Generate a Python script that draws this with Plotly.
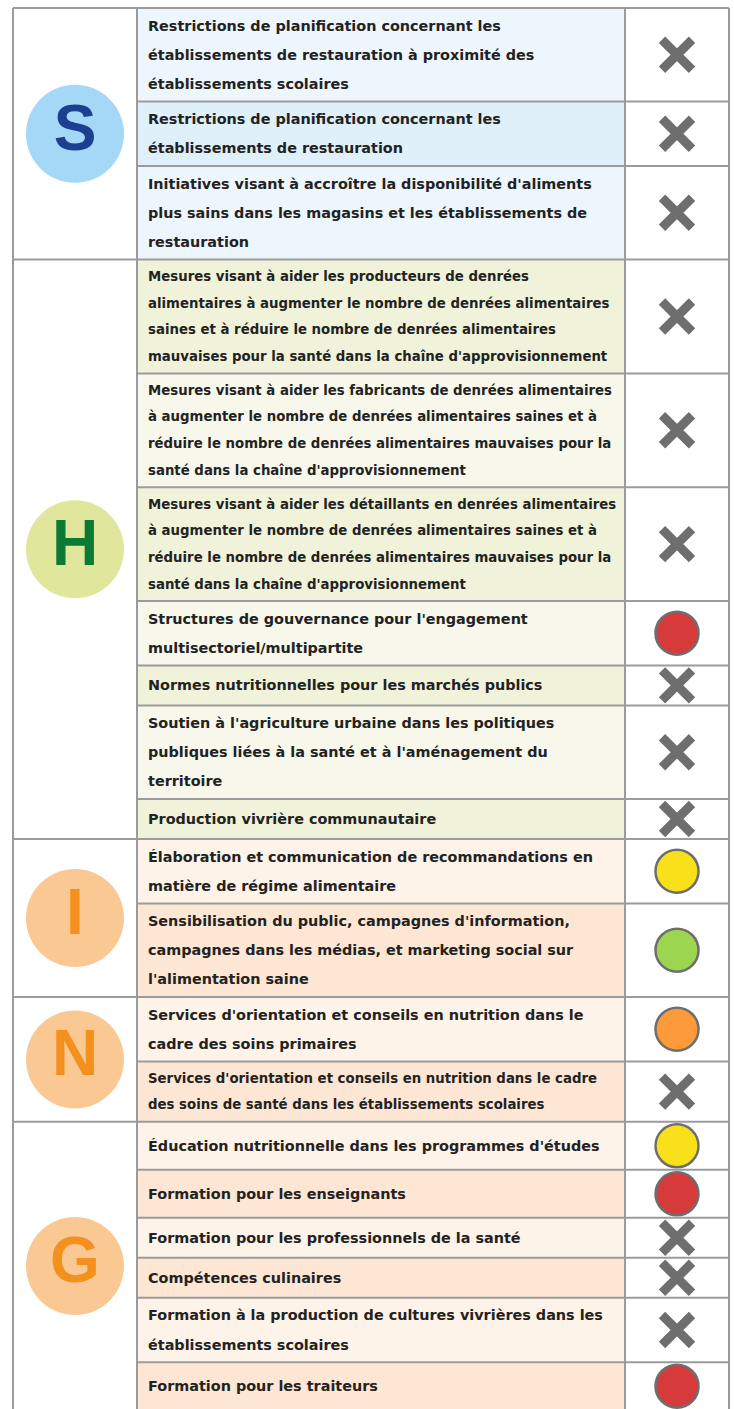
import plotly.graph_objects as go

# ---------------- data ----------------
row_texts = [
    "Restrictions de planification concernant les|établissements de restauration à proximité des|établissements scolaires",
    "Restrictions de planification concernant les|établissements de restauration",
    "Initiatives visant à accroître la disponibilité d'aliments|plus sains dans les magasins et les établissements de|restauration",
    "Mesures visant à aider les producteurs de denrées|alimentaires à augmenter le nombre de denrées alimentaires|saines et à réduire le nombre de denrées alimentaires|mauvaises pour la santé dans la chaîne d'approvisionnement",
    "Mesures visant à aider les fabricants de denrées alimentaires|à augmenter le nombre de denrées alimentaires saines et à|réduire le nombre de denrées alimentaires mauvaises pour la|santé dans la chaîne d'approvisionnement",
    "Mesures visant à aider les détaillants en denrées alimentaires|à augmenter le nombre de denrées alimentaires saines et à|réduire le nombre de denrées alimentaires mauvaises pour la|santé dans la chaîne d'approvisionnement",
    "Structures de gouvernance pour l'engagement|multisectoriel/multipartite",
    "Normes nutritionnelles pour les marchés publics",
    "Soutien à l'agriculture urbaine dans les politiques|publiques liées à la santé et à l'aménagement du|territoire",
    "Production vivrière communautaire",
    "Élaboration et communication de recommandations en|matière de régime alimentaire",
    "Sensibilisation du public, campagnes d'information,|campagnes dans les médias, et marketing social sur|l'alimentation saine",
    "Services d'orientation et conseils en nutrition dans le|cadre des soins primaires",
    "Services d'orientation et conseils en nutrition dans le cadre|des soins de santé dans les établissements scolaires",
    "Éducation nutritionnelle dans les programmes d'études",
    "Formation pour les enseignants",
    "Formation pour les professionnels de la santé",
    "Compétences culinaires",
    "Formation à la production de cultures vivrières dans les|établissements scolaires",
    "Formation pour les traiteurs",
]
row_status = ["x", "x", "x", "x", "x", "x", "red", "x", "x", "x",
              "yellow", "green", "orange", "x", "yellow", "red", "x", "x", "x", "red"]
row_group = ["S"] * 3 + ["H"] * 7 + ["I"] * 2 + ["N"] * 2 + ["G"] * 6
row_small = [False] * 3 + [True] * 3 + [False] * 7 + [True] + [False] * 6
group_letters = ["S", "H", "I", "N", "G"]

# ---------------- styles ----------------
W, H = 734, 1409
TOP = 8
X0, X1, X2, X3 = 13, 137, 625, 729
LH_N, LH_S = 29.2, 26.7
GRID = "#9b9b9b"
TEXT_FONT = "DejaVu Sans, sans-serif"
bg_colors = {
    "S": ("#eef6fd", "#dff0fb"),
    "H": ("#f7f8eb", "#f0f3da"),
    "I": ("#fef3e8", "#fde7d4"),
    "N": ("#fef3e8", "#fde7d4"),
    "G": ("#fef3e8", "#fde7d4"),
}
circle_fill = {"S": "#a4d8f6", "H": "#e0e79d", "I": "#f9c893", "N": "#f9c893", "G": "#f9c893"}
letter_color = {"S": "#1c3f92", "H": "#0b7a33", "I": "#f4901e", "N": "#f4901e", "G": "#f4901e"}
status_color = {"red": "#d63a3b", "yellow": "#f8e11b", "green": "#9cd650", "orange": "#fd9b3a"}

# ---------------- layout computation ----------------
lines = [t.split("|") for t in row_texts]
heights = []
for ln, sm, st in zip(lines, row_small, row_status):
    th = len(ln) * (LH_S if sm else LH_N) + (7 if sm else 6)
    heights.append(max(th, 40 if st == "x" else 48))
bounds = [TOP]
for h in heights:
    bounds.append(bounds[-1] + h)
centers = [(bounds[i] + bounds[i + 1]) / 2 for i in range(len(heights))]

shapes = []
annotations = []
# row backgrounds
for i, g in enumerate(row_group):
    shapes.append(dict(type="rect", xref="x", yref="y", x0=X1, x1=X2, y0=bounds[i], y1=bounds[i + 1],
                       fillcolor=bg_colors[g][i % 2], line=dict(width=0), layer="below"))
# horizontal lines
group_bounds = {}
for i, g in enumerate(row_group):
    group_bounds.setdefault(g, [bounds[i], bounds[i + 1]])
    group_bounds[g][1] = bounds[i + 1]
group_edges = set(v[0] for v in group_bounds.values()) | set(v[1] for v in group_bounds.values())
for b in bounds:
    xs = X0 if b in group_edges else X1
    shapes.append(dict(type="line", xref="x", yref="y", x0=xs, x1=X3, y0=b, y1=b,
                       line=dict(color=GRID, width=2)))
for xv in (X0, X1, X2, X3):
    shapes.append(dict(type="line", xref="x", yref="y", x0=xv, x1=xv, y0=TOP, y1=bounds[-1],
                       line=dict(color=GRID, width=2)))

# text lines
for i, ln in enumerate(lines):
    lh = LH_S if row_small[i] else LH_N
    n = len(ln)
    for k, s in enumerate(ln):
        annotations.append(dict(x=X1 + 9, y=centers[i] + (k - (n - 1) / 2) * lh, xref="x", yref="y",
                                text=s, showarrow=False, xanchor="left", yanchor="middle",
                                font=dict(family=TEXT_FONT, size=13.3 if row_small[i] else 14.4,
                                          color="#222222", weight=700)))

fig = go.Figure()

# group letter circles
gc = [(group_bounds[g][0] + group_bounds[g][1]) / 2 for g in group_letters]
fig.add_trace(go.Scatter(
    x=[(X0 + X1) / 2] * len(group_letters), y=gc, mode="markers+text",
    text=group_letters, textposition="middle center",
    marker=dict(size=98, color=[circle_fill[g] for g in group_letters], line=dict(width=0)),
    textfont=dict(family="Liberation Sans, Arial, sans-serif", size=64,
                  color=[letter_color[g] for g in group_letters], weight=700),
    hoverinfo="skip", showlegend=False))

# X markers
xi = [i for i, s in enumerate(row_status) if s == "x"]
fig.add_trace(go.Scatter(
    x=[(X2 + X3) / 2] * len(xi), y=[centers[i] for i in xi], mode="markers",
    marker=dict(symbol="x-thin", size=30, line=dict(width=9, color="#6e6e6e")),
    hoverinfo="skip", showlegend=False))

# circle markers
ci = [i for i, s in enumerate(row_status) if s != "x"]
fig.add_trace(go.Scatter(
    x=[(X2 + X3) / 2] * len(ci), y=[centers[i] for i in ci], mode="markers",
    marker=dict(symbol="circle", size=43, color=[status_color[row_status[i]] for i in ci],
                line=dict(width=2.5, color="#6e6e6e")),
    hoverinfo="skip", showlegend=False))

fig.update_layout(
    width=W, height=H, margin=dict(l=0, r=0, t=0, b=0),
    paper_bgcolor="white", plot_bgcolor="white",
    xaxis=dict(range=[0, W], visible=False, fixedrange=True),
    yaxis=dict(range=[H, 0], visible=False, fixedrange=True),
    shapes=shapes, annotations=annotations, showlegend=False,
)
# remove the page's default body margin so the figure fills the window exactly
fig.write_html("out.html", config={"displayModeBar": False, "staticPlot": True},
               post_script="document.body.style.margin='0';document.body.style.overflow='hidden';")
